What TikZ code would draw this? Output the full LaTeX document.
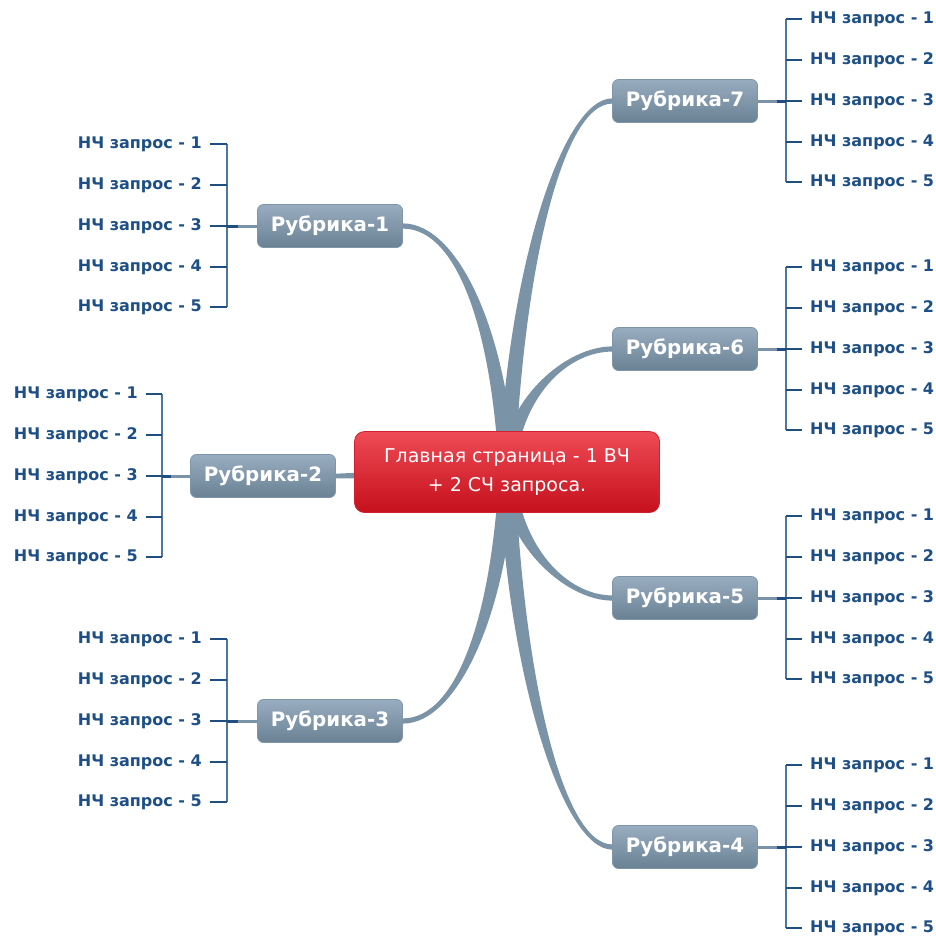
\documentclass[tikz,border=0pt]{standalone}
\usepackage{fontspec}
\setmainfont{DejaVu Sans}
\usetikzlibrary{calc}
\pgfdeclarelayer{bg}
\pgfsetlayers{bg,main}
\definecolor{leafblue}{HTML}{1D4F86}
\definecolor{tickblue}{HTML}{1F4F80}
\definecolor{busblue}{HTML}{4F769C}
\definecolor{rubtop}{HTML}{98ACBE}
\definecolor{rubbot}{HTML}{6A8195}
\definecolor{rubline}{HTML}{7F95A8}
\definecolor{branchc}{HTML}{7A93A6}
\definecolor{redtop}{HTML}{EF4B56}
\definecolor{redbot}{HTML}{C5101C}
\definecolor{redline}{HTML}{D0222E}
\tikzset{
  rub/.style={draw=rubline, line width=0.8pt, rounded corners=6pt, top color=rubtop, bottom color=rubbot,
    minimum width=145pt, minimum height=43pt, inner sep=0pt, text=white,
    font=\fontsize{19.8}{22}\selectfont\bfseries},
  mainnode/.style={draw=redline, line width=0.8pt, rounded corners=10pt, top color=redtop, bottom color=redbot,
    minimum width=305pt, minimum height=81pt, inner sep=0pt, text=white, align=center,
    font=\fontsize{19}{29}\selectfont},
  leafnode/.style={text=leafblue, inner xsep=8pt, inner ysep=0pt, font=\fontsize{16}{18}\selectfont\bfseries},
  branchfill/.style={fill=branchc, draw=none},
  stem/.style={draw=branchc, line width=3pt},
  stemdark/.style={draw=tickblue, line width=3pt},
  tick/.style={draw=tickblue, line width=2.4pt},
  bus/.style={draw=busblue, line width=1.5pt},
}
\begin{document}
\begin{tikzpicture}[x=1pt,y=-1pt]
\useasboundingbox (0,0) rectangle (936,935);
% centre and rubric nodes
\node[mainnode] (C) at (507,472) {Главная страница - 1 ВЧ\\+ 2 СЧ запроса.};
\node[rub] (R1) at (330,226) {Рубрика-1};
\node[rub] (R2) at (263,476) {Рубрика-2};
\node[rub] (R3) at (330,721) {Рубрика-3};
\node[rub] (R4) at (685,847) {Рубрика-4};
\node[rub] (R5) at (685,598) {Рубрика-5};
\node[rub] (R6) at (685,349) {Рубрика-6};
\node[rub] (R7) at (685,101) {Рубрика-7};
% tapered branches behind the nodes
\begin{pgfonlayer}{bg}
\fill[branchfill] ($(C.center)+(8,0)$) .. controls +(-7,-140) and +(55,0) .. ($(R1.east)+(0,-2.6)$)
   -- ($(R1.east)+(0,2.6)$) .. controls +(55,0) and +(-7,-140) .. ($(C.center)+(-8,0)$) -- cycle;
\fill[branchfill] ($(C.center)+(8,0)$) .. controls +(-7,140) and +(55,0) .. ($(R3.east)+(0,2.6)$)
   -- ($(R3.east)+(0,-2.6)$) .. controls +(55,0) and +(-7,140) .. ($(C.center)+(-8,0)$) -- cycle;
\fill[branchfill] ($(C.center)+(-8,0)$) .. controls +(8,-200) and +(-50,0) .. ($(R7.west)+(0,-2.6)$)
   -- ($(R7.west)+(0,2.6)$) .. controls +(-50,0) and +(8,-200) .. ($(C.center)+(8,0)$) -- cycle;
\fill[branchfill] ($(C.center)+(-8,0)$) .. controls +(5,-75) and +(-45,0) .. ($(R6.west)+(0,-2.6)$)
   -- ($(R6.west)+(0,2.6)$) .. controls +(-45,0) and +(5,-75) .. ($(C.center)+(8,0)$) -- cycle;
\fill[branchfill] ($(C.center)+(-8,0)$) .. controls +(5,75) and +(-45,0) .. ($(R5.west)+(0,2.6)$)
   -- ($(R5.west)+(0,-2.6)$) .. controls +(-45,0) and +(5,75) .. ($(C.center)+(8,0)$) -- cycle;
\fill[branchfill] ($(C.center)+(-8,0)$) .. controls +(8,200) and +(-50,0) .. ($(R4.west)+(0,2.6)$)
   -- ($(R4.west)+(0,-2.6)$) .. controls +(-50,0) and +(8,200) .. ($(C.center)+(8,0)$) -- cycle;
\fill[branchfill] ($(C.center)+(0,-6)$) -- ($(R2.east)+(0,-2.3)$) -- ($(R2.east)+(0,2.3)$) -- ($(C.center)+(0,6)$) -- cycle;
\end{pgfonlayer}
% right-side leaves
\foreach \r/\yc in {7/101,6/349,5/598,4/847}{
  \coordinate (b\r) at (786,\yc);
  \foreach \k/\dy in {1/-82,2/-41,3/0,4/41,5/81}{
    \node[leafnode, anchor=west] (L\r-\k) at (802,\yc+\dy) {НЧ запрос - \k};
  }
  \draw[bus] (L\r-1.west -| b\r) -- (L\r-5.west -| b\r);
  \foreach \k in {1,...,5}{
    \draw[tick] (L\r-\k.west) -- (L\r-\k.west -| b\r);
  }
  \draw[stem] (R\r.east) -- (b\r);
  \draw[stemdark, shorten <=19pt] (R\r.east) -- (b\r);
}
% left-side leaves
\foreach \r/\yc/\bx/\lx in {1/226/227/210,3/721/227/210,2/476/162/146}{
  \coordinate (b\r) at (\bx,\yc);
  \foreach \k/\dy in {1/-82,2/-41,3/0,4/41,5/81}{
    \node[leafnode, anchor=east] (L\r-\k) at (\lx,\yc+\dy) {НЧ запрос - \k};
  }
  \draw[bus] (L\r-1.east -| b\r) -- (L\r-5.east -| b\r);
  \foreach \k in {1,...,5}{
    \draw[tick] (L\r-\k.east) -- (L\r-\k.east -| b\r);
  }
  \draw[stem] (R\r.west) -- (b\r);
  \draw[stemdark, shorten <=19pt] (R\r.west) -- (b\r);
}
\end{tikzpicture}
\end{document}
